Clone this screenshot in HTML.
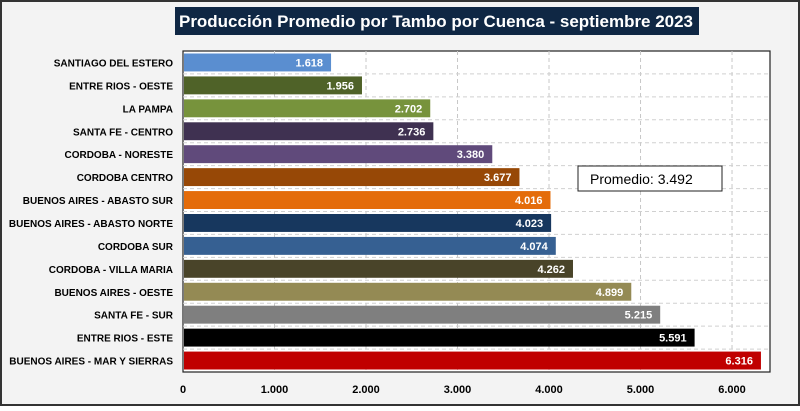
<!DOCTYPE html>
<html><head><meta charset="utf-8"><style>
body{margin:0;background:#fff}
#c{position:relative;width:800px;height:406px;font-family:"Liberation Sans",sans-serif}
text{font-family:"Liberation Sans",sans-serif}
</style></head><body>
<div id="c">
<svg id="s" width="800" height="406">
<rect x="1" y="1" width="798" height="404" fill="#f3f3f3" stroke="#333" stroke-width="2"/>
<rect x="175" y="7" width="524" height="28" fill="#0f2744"/>
<text x="179" y="27" fill="#fff" font-size="17" font-weight="bold" textLength="514" lengthAdjust="spacingAndGlyphs">Producción Promedio por Tambo por Cuenca -  septiembre 2023</text>
<rect x="183" y="51" width="587" height="321" fill="#fff" stroke="#222" stroke-width="1.2"/>
<g id="g"></g>
<rect x="578" y="166" width="144" height="25" fill="#fff" stroke="#222"/>
<text x="590" y="184" font-size="14" fill="#000">Promedio: 3.492</text>
</svg>
</div>
<script>
const categories=["SANTIAGO DEL ESTERO","ENTRE RIOS - OESTE","LA PAMPA","SANTA FE - CENTRO","CORDOBA - NORESTE","CORDOBA CENTRO","BUENOS AIRES - ABASTO SUR","BUENOS AIRES - ABASTO NORTE","CORDOBA SUR","CORDOBA - VILLA MARIA","BUENOS AIRES - OESTE","SANTA FE - SUR","ENTRE RIOS - ESTE","BUENOS AIRES - MAR Y SIERRAS"];
const values=[1618,1956,2702,2736,3380,3677,4016,4023,4074,4262,4899,5215,5591,6316];
const colors=["#5a8ed0","#4f6228","#77933c","#3f3151","#604a7b","#974806","#e46c0a","#17375e","#366092","#494429","#948a54","#7f7f7f","#000000","#c00000"];
const ticks=[0,1000,2000,3000,4000,5000,6000];
const NS="http://www.w3.org/2000/svg";
const g=document.getElementById("g");
const x0=183,x1=770,xmax=6415,y0=51,y1=372;
const xs=v=>x0+(x1-x0)*v/xmax;
const band=(y1-y0)/categories.length;
const ys=i=>y0+band*i;
function mk(t,a){const e=document.createElementNS(NS,t);for(const k in a)e.setAttribute(k,a[k]);g.appendChild(e);return e;}
const fmt=v=>v===0?"0":(v/1000).toFixed(3);
ticks.forEach(t=>{
 if(t>0){const l=mk("line",{x1:xs(t),x2:xs(t),y1:y0,y2:y1,stroke:"#c8c8c8","stroke-dasharray":"4,3"});
 
 }
 const tx=mk("text",{x:xs(t),y:393,"text-anchor":"middle","font-size":"11","font-weight":"bold",fill:"#000"});tx.textContent=fmt(t);
 
 
});
for(let i=1;i<categories.length;i++){
 const l=mk("line",{x1:x0,x2:x1,y1:ys(i),y2:ys(i),stroke:"#d0d0d0","stroke-dasharray":"4,3"});
 
 
}
categories.forEach((c,i)=>{
 const y=ys(i)+2.5,h=band-5;
 const r=mk("rect",{x:x0+1,y:y,width:xs(values[i])-x0-1,height:h,fill:colors[i]});
 
 
 const v=mk("text",{x:xs(values[i])-8,y:y+h/2+4,"text-anchor":"end","font-size":"11","font-weight":"bold",fill:"#fff"});v.textContent=fmt(values[i]);
 
 
 const l=mk("text",{x:173,y:y+h/2+4,"text-anchor":"end","font-size":"10","font-weight":"bold",fill:"#000"});l.textContent=c;
 
 
});
</script>
</body></html>
